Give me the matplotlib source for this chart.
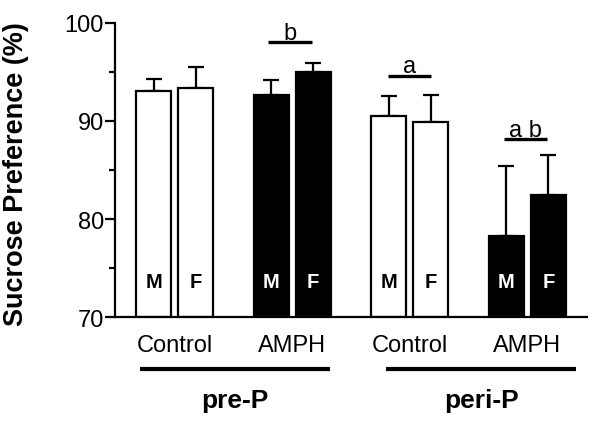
import numpy as np
import matplotlib
matplotlib.use("Agg")
from matplotlib import pyplot as plt

plt.rcParams['font.family'] = ['Liberation Sans', 'DejaVu Sans']

# data
treat = ['Control', 'Control', 'AMPH', 'AMPH', 'Control', 'Control', 'AMPH', 'AMPH']
sex = ['M', 'F', 'M', 'F', 'M', 'F', 'M', 'F']
means = [93.1, 93.4, 92.6, 95.0, 90.5, 89.9, 78.3, 82.5]
sems = [1.2, 2.1, 1.6, 0.9, 2.0, 2.8, 7.1, 4.0]
periods = ['pre-P', 'peri-P']
sig_marks = ['b', 'a', 'a b']

pos = np.array([0, 1, 2.8, 3.8, 5.6, 6.6, 8.4, 9.4])
filled = [t == 'AMPH' for t in treat]

fig = plt.figure(figsize=(6.02, 4.27), dpi=100)
ax = fig.add_axes([0.191, 0.255, 0.784, 0.689])

for i in range(len(means)):
    fc = 'black' if filled[i] else 'white'
    ax.bar(pos[i], means[i] - 70, bottom=70, width=0.83, color=fc,
           edgecolor='black', linewidth=1.6, zorder=2)
    ax.errorbar(pos[i], means[i], yerr=[[0], [sems[i]]], fmt='none',
                ecolor='black', elinewidth=1.6, capsize=5.5, capthick=1.6, zorder=1)
    ax.text(pos[i], 73.6, sex[i], ha='center', va='center', fontsize=14.5,
            fontweight='bold', color='white' if filled[i] else 'black', zorder=3)

ax.set_xlim(-0.92, 10.32)
ax.set_ylim(70, 100)
ax.set_yticks([70, 80, 90, 100])
ax.set_yticks([75, 85, 95], minor=True)
ax.tick_params(axis='y', which='major', length=7, width=1.6, labelsize=17, pad=1)
ax.tick_params(axis='y', which='minor', length=4, width=1.6)
ax.set_xticks([])
for s in ['top', 'right']:
    ax.spines[s].set_visible(False)
for s in ['left', 'bottom']:
    ax.spines[s].set_linewidth(1.6)

ax.set_ylabel('Sucrose Preference (%)', fontsize=19.5, fontweight='bold')
ax.yaxis.set_label_coords(-0.182, 0.49)

# treatment labels under the axis
for k in range(4):
    cx = (pos[2 * k] + pos[2 * k + 1]) / 2
    ax.text(cx, 67.2, treat[2 * k], ha='center', va='center', fontsize=17, clip_on=False)

# period lines and labels
spans = [(-0.32, 4.2), (5.54, 10.06)]
for (a, b), lab in zip(spans, periods):
    ax.plot([a, b], [64.7, 64.7], color='black', lw=3, clip_on=False, solid_capstyle='butt')
    ax.text((a + b) / 2, 61.5, lab, ha='center', va='center', fontsize=19,
            fontweight='bold', clip_on=False)

# significance letters
sig_x = [(2.73, 3.77), (5.58, 6.61), (8.35, 9.37)]
sig_y = [98.06, 94.6, 88.16]
for (a, b), y, m in zip(sig_x, sig_y, sig_marks):
    ax.plot([a, b], [y, y], color='black', lw=2.4, clip_on=False, solid_capstyle='butt')
    ax.text((a + b) / 2, y + 0.35, m, ha='center', va='baseline', fontsize=17, clip_on=False)

fig.savefig('out.png', dpi=100)
